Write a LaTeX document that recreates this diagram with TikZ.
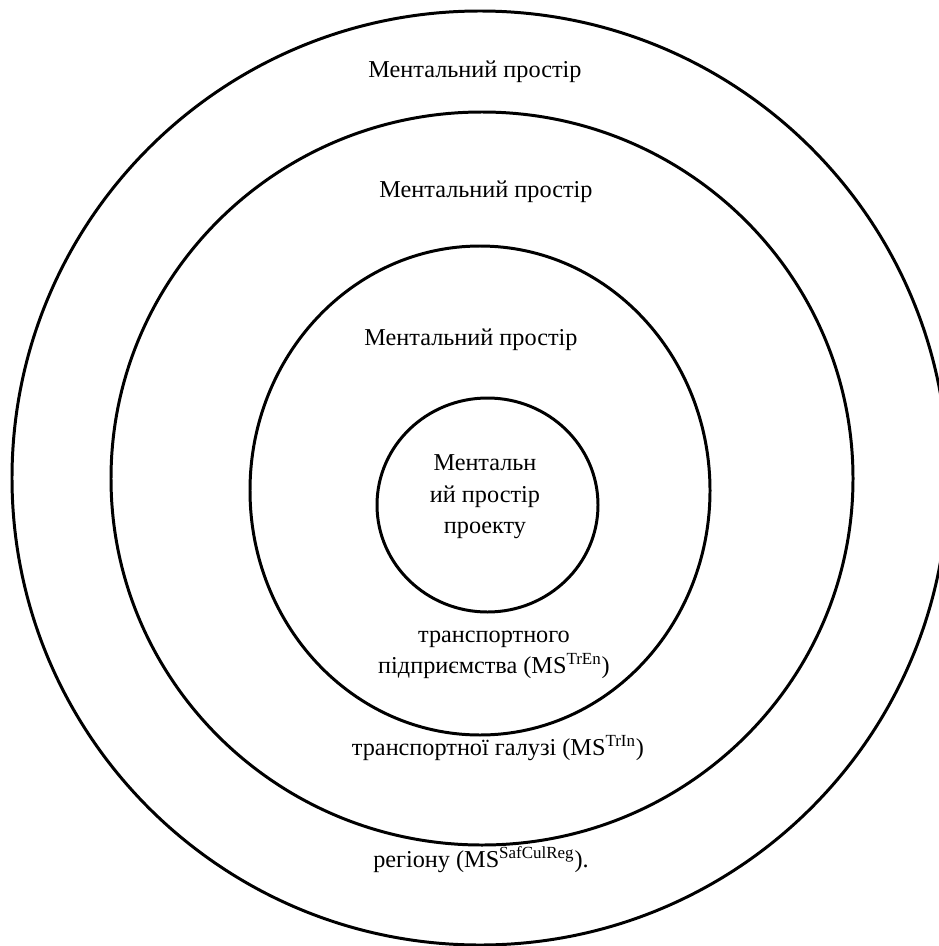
\documentclass[tikz,border=0pt]{standalone}
\usepackage{fontspec}
\setmainfont{Liberation Serif}
\newfontfamily\timesfont{Liberation Serif}
\usetikzlibrary{positioning}

\tikzset{
	ring/.style={line width=1.7pt},
	lbl/.style={font=\timesfont\fontsize{13.8}{17.9}\selectfont, align=center, inner sep=0pt}
}

\begin{document}
\begin{tikzpicture}[x=0.02cm, y=0.02cm]
			%%%%% START %%%%%
			\useasboundingbox (0, 0) rectangle (939, -946);
			
			\draw[ring] (480, -478) ellipse [x radius=468, y radius=467];
			\draw[ring] (482, -478.5) ellipse [x radius=371, y radius=366.5];
			\draw[ring] (480, -490.5) ellipse [x radius=230, y radius=244.5];
			\draw[ring] (487.5, -505) ellipse [x radius=110.5, y radius=107];
			
			\node[lbl] (msreg) at (475, -72) {Ментальний простір};
			\node[lbl] (msin) at (486, -192) {Ментальний простір};
			\node[lbl] (msen) at (471, -340) {Ментальний простір};
			\node[lbl] (msproj) at (485, -497) {Ментальн\\ий простір\\проекту};
			
			\node[lbl] (enname) at (494, -655) {транспортного\\підприємства (MS\textsuperscript{TrEn})};
			\node[lbl] (inname) at (498, -748) {транспортної галузі (MS\textsuperscript{TrIn})};
			\node[lbl] (regname) at (481, -860) {регіону (MS\textsuperscript{SafCulReg}).};
			%%%%% END %%%%%
\end{tikzpicture}
\end{document}
